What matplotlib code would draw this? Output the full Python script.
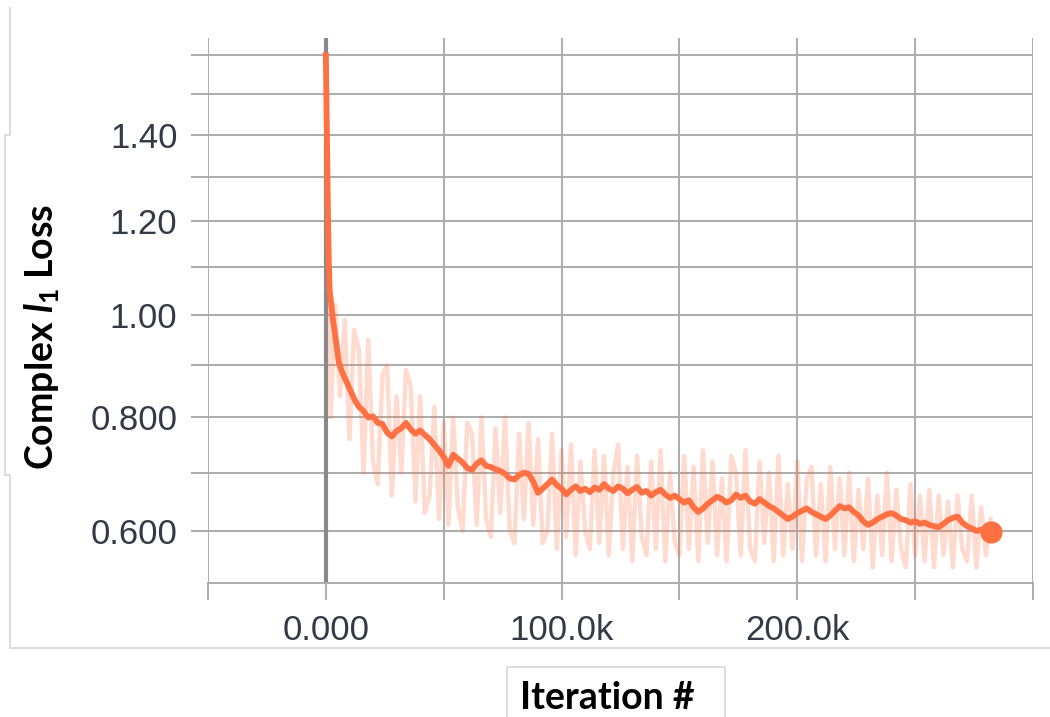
import numpy as np
import matplotlib
matplotlib.use("Agg")
import matplotlib.pyplot as plt
from matplotlib.lines import Line2D

# 数据（步数单位：千）
# 开头陡降部分
head_k = [0, 0.4, 0.8, 1.2, 1.6, 2.1, 3.0, 4.2, 5.5, 7.0, 8.5]
head_v = [1.60, 1.42, 1.25, 1.12, 1.05, 1.03, 0.99, 0.95, 0.905, 0.885, 0.87]
# 之后每 2k 一个点
tail_k = np.arange(10, 283, 2)
tail_v = [0.855, 0.835, 0.820, 0.812, 0.800, 0.802, 0.790, 0.788, 0.772, 0.765,
          0.775, 0.780, 0.790, 0.778, 0.770, 0.776, 0.768, 0.760, 0.750, 0.740,
          0.728, 0.712, 0.732, 0.725, 0.718, 0.708, 0.705, 0.716, 0.722, 0.712,
          0.710, 0.706, 0.703, 0.698, 0.690, 0.688, 0.696, 0.700, 0.698, 0.684,
          0.665, 0.672, 0.680, 0.688, 0.678, 0.672, 0.662, 0.670, 0.676, 0.668,
          0.672, 0.666, 0.674, 0.670, 0.680, 0.672, 0.668, 0.676, 0.672, 0.664,
          0.670, 0.675, 0.665, 0.668, 0.660, 0.666, 0.670, 0.662, 0.656, 0.660,
          0.654, 0.648, 0.652, 0.640, 0.632, 0.638, 0.646, 0.652, 0.658, 0.654,
          0.648, 0.652, 0.662, 0.656, 0.660, 0.650, 0.646, 0.654, 0.648, 0.642,
          0.638, 0.632, 0.626, 0.620, 0.624, 0.630, 0.634, 0.638, 0.632, 0.628,
          0.624, 0.620, 0.626, 0.634, 0.642, 0.638, 0.640, 0.632, 0.626, 0.616,
          0.610, 0.614, 0.620, 0.624, 0.628, 0.630, 0.626, 0.620, 0.618, 0.614,
          0.616, 0.612, 0.614, 0.610, 0.608, 0.606, 0.612, 0.618, 0.622, 0.624,
          0.614, 0.608, 0.604, 0.600, 0.602, 0.598, 0.598]

raw_k = np.arange(0, 283, 2)
raw_v = [1.60, 0.80, 1.02, 0.84, 0.99, 0.76, 0.97, 0.93, 0.70, 0.95,
         0.72, 0.68, 0.88, 0.90, 0.66, 0.84, 0.70, 0.89, 0.86, 0.65,
         0.84, 0.63, 0.66, 0.82, 0.62, 0.79, 0.61, 0.80, 0.64, 0.60,
         0.79, 0.77, 0.61, 0.80, 0.62, 0.59, 0.78, 0.63, 0.80, 0.60,
         0.58, 0.77, 0.62, 0.79, 0.61, 0.76, 0.58, 0.60, 0.77, 0.57,
         0.74, 0.59, 0.75, 0.56, 0.72, 0.60, 0.57, 0.74, 0.58, 0.73,
         0.56, 0.70, 0.75, 0.57, 0.71, 0.55, 0.73, 0.59, 0.56, 0.72,
         0.57, 0.74, 0.55, 0.70, 0.58, 0.56, 0.73, 0.57, 0.71, 0.55,
         0.74, 0.58, 0.72, 0.56, 0.69, 0.55, 0.73, 0.70, 0.56, 0.74,
         0.57, 0.55, 0.72, 0.58, 0.70, 0.55, 0.73, 0.56, 0.68, 0.57,
         0.72, 0.55, 0.69, 0.71, 0.56, 0.68, 0.55, 0.71, 0.57, 0.69,
         0.56, 0.70, 0.55, 0.67, 0.57, 0.69, 0.54, 0.66, 0.56, 0.70,
         0.55, 0.67, 0.57, 0.54, 0.68, 0.56, 0.66, 0.55, 0.67, 0.54,
         0.66, 0.56, 0.65, 0.54, 0.66, 0.57, 0.55, 0.66, 0.54, 0.64,
         0.56, 0.62]

y_grid = [0.6, 0.7, 0.8, 0.9, 1.0, 1.1, 1.2, 1.3, 1.4, 1.5, 1.6]
y_labels = ["0.600", "", "0.800", "", "1.00", "", "1.20", "", "1.40", "", ""]
x_grid = [-50, 0, 50, 100, 150, 200, 250, 300]
x_labels = ["", "0.000", "", "100.0k", "", "200.0k", "", ""]

orange = "#ff7043"
grid_c = "#ababab"

plt.rcParams['font.family'] = ['Liberation Sans', 'DejaVu Sans']
plt.rcParams['mathtext.fontset'] = 'custom'
plt.rcParams['mathtext.it'] = 'Lato:bold:italic'
plt.rcParams['mathtext.rm'] = 'Lato:bold'

fig = plt.figure(figsize=(10.5, 7.17), dpi=100)
ax = fig.add_axes([208 / 1050, 1 - 583 / 717, 825 / 1050, 545 / 717])

# 纵轴刻度间距介于线性和对数之间
ax.set_yscale('function', functions=(lambda y: np.log(y + 1.2), lambda v: np.exp(v) - 1.2))

sm_x = np.concatenate([head_k, tail_k]) * 1000
sm_y = head_v + tail_v
ax.plot(raw_k * 1000, raw_v, color=orange, alpha=0.25, lw=3.2, zorder=2)
ax.axvline(0, color="#8a8a8a", lw=3, zorder=1.5)
ax.plot(sm_x, sm_y, color=orange, lw=4.2, zorder=3)
ax.plot(sm_x[-1], sm_y[-1], 'o', color=orange, ms=15, zorder=4)

ax.set_xlim(-50000, 300000)
ax.set_ylim(0.515, 1.645)

ax.set_xticks([v * 1000 for v in x_grid])
ax.set_xticklabels(x_labels)
ax.set_yticks(y_grid)
ax.set_yticklabels(y_labels)
ax.minorticks_off()
ax.tick_params(axis='both', length=12, width=1.4, color=grid_c, labelsize=25,
               labelcolor="#333a45", pad=10)
ax.grid(True, color=grid_c, lw=1.4, zorder=0)
ax.set_axisbelow(True)
for s in ['top', 'right', 'left']:
    ax.spines[s].set_visible(False)
ax.spines['bottom'].set_color(grid_c)
ax.spines['bottom'].set_linewidth(1.4)

fig.text(42 / 1050, 1 - 337 / 717, r"Complex $l_1$ Loss", rotation=90,
         ha='center', va='center', fontsize=27, fontweight='bold',
         family=['Lato', 'DejaVu Sans'])
fig.text(607 / 1050, 1 - 698 / 717, "Iteration #", ha='center', va='center',
         fontsize=27, fontweight='bold', family=['Lato', 'DejaVu Sans'])

# 截图边框
def px_line(xs, ys):
    fig.add_artist(Line2D([x / 1050 for x in xs], [1 - y / 717 for y in ys],
                          color="#d6d6d6", lw=1.2, transform=fig.transFigure))

px_line([10, 10, 5, 5, 10, 10, 1050], [8, 135, 135, 475, 475, 648, 648])
px_line([507, 507, 725, 725], [717, 667, 667, 717])

fig.savefig("out.png", dpi=100)
